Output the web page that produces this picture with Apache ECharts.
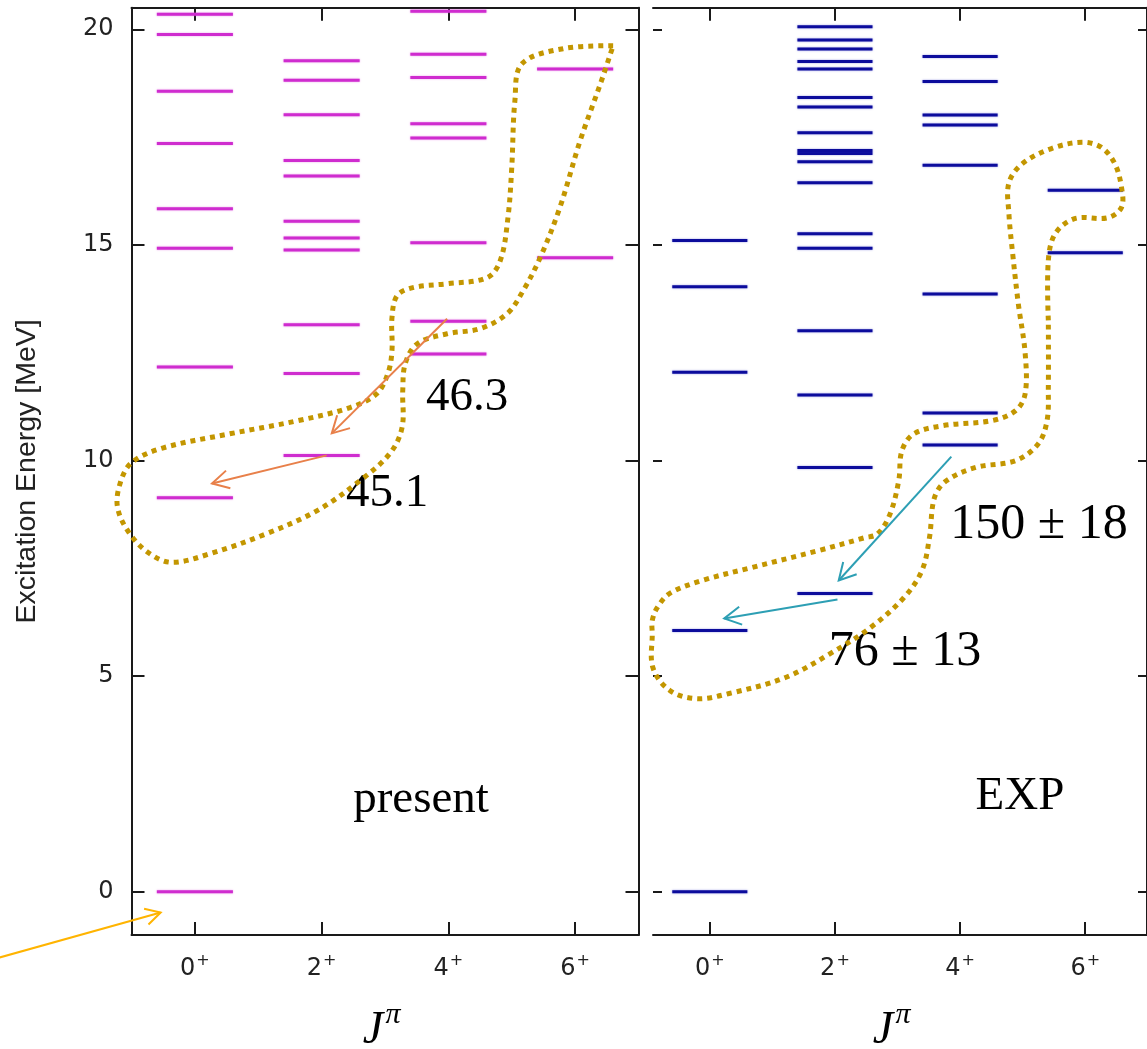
<!DOCTYPE html>
<html><head><meta charset="utf-8">
<script src="https://cdn.jsdelivr.net/npm/echarts@6/dist/echarts.min.js"></script>
<style>html,body{margin:0;padding:0;background:#fff}#c{width:1147px;height:1049px}</style>
</head><body><div id="c"></div>
<script>
// ---- data ----
const spinTicks = [0, 2, 4, 6];
const energyTicks = [0, 5, 10, 15, 20];

// calculated ("present") levels, MeV
const presentJ0 = [0, 9.14, 12.17, 14.92, 15.84, 17.35, 18.56, 19.88, 20.35];
const presentJ2 = [10.12, 12.02, 13.15, 14.88, 15.16, 15.55, 16.60, 16.96, 18.02, 18.82, 19.27];
const presentJ4 = [12.47, 13.23, 15.05, 17.48, 17.81, 18.88, 19.42, 20.42];
const presentJ6 = [14.70, 19.08];

// experimental levels, MeV
const expJ0 = [0, 6.06, 12.05, 14.03, 15.10];
const expJ2 = [6.92, 9.84, 11.52, 13.01, 14.92, 15.26, 16.44, 16.93, 17.12, 17.19, 17.60, 18.20, 18.42, 19.08, 19.25, 19.54, 19.75, 20.06];
const expJ4 = [10.36, 11.10, 13.86, 16.85, 17.78, 18.01, 18.79, 19.37];
const expJ6 = [14.82, 16.27];

// transition arrows [J from, E from, J to, E to]
const presentArrows = [[3.98, 13.29, 2.16, 10.63], [2.08, 10.12, 0.27, 9.47]];
const expArrows = [[3.86, 10.09, 2.06, 7.22], [2.04, 6.78, 0.23, 6.34]];
const groundArrow = [[-3.08, -1.52, -0.54, -0.48]];

// annotation labels
const presentLabels = ['46.3', '45.1', 'present'];
const expLabels = ['150 ± 18', '76 ± 13', 'EXP'];

// dotted band outlines [J, E]
const presentLoop = [
  [6.60,19.62],[5.81,19.55],[5.16,19.20],[5.05,18.35],[5.00,16.79],[4.94,15.63],[4.82,14.64],[4.61,14.24],
  [3.98,14.10],[3.44,14.01],[3.19,13.82],[3.11,13.31],[3.11,12.55],[3.05,12.04],[2.87,11.55],[2.45,11.23],
  [1.61,10.92],[0.55,10.62],[-0.51,10.29],[-1.0,9.95],[-1.18,9.47],[-1.22,8.91],[-1.03,8.31],[-0.71,7.84],
  [-0.36,7.64],[0.24,7.84],[1.14,8.31],[1.93,8.84],[2.61,9.54],[3.08,10.17],[3.27,10.77],[3.28,11.62],
  [3.32,12.25],[3.51,12.71],[3.98,12.94],[4.50,13.06],[4.93,13.41],[5.18,13.94],[5.45,14.71],[5.76,15.87],
  [6.08,17.42],[6.40,18.74],[6.60,19.62]
];
const expLoop = [
  [5.41,13.25],[5.41,14.64],[5.52,15.26],[5.83,15.61],[6.36,15.63],[6.58,15.87],[6.58,16.33],[6.47,16.89],
  [6.26,17.26],[5.95,17.38],[5.47,17.24],[5.00,16.89],[4.78,16.44],[4.78,15.73],[4.84,14.80],[4.93,13.64],
  [5.04,12.48],[5.04,11.55],[4.89,11.16],[4.52,10.93],[3.73,10.81],[3.26,10.62],[3.07,10.23],[3.02,9.54],
  [2.88,8.76],[2.68,8.30],[2.47,8.21],[1.73,7.91],[0.67,7.52],[-0.12,7.22],[-0.64,6.92],[-0.84,6.59],
  [-0.92,6.29],[-0.92,5.99],[-0.91,5.20],[-0.64,4.67],[-0.21,4.48],[0.31,4.60],[1.21,4.97],[1.93,5.53],
  [2.57,6.13],[3.10,6.82],[3.39,7.45],[3.51,8.21],[3.59,9.14],[3.78,9.53],[4.25,9.84],[4.89,10.00],
  [5.25,10.39],[5.39,10.93],[5.41,11.69],[5.41,13.25]
];

// ---- build ----
function levels(cols) {
  const out = [];
  cols.forEach((arr, i) => arr.forEach(e => out.push([spinTicks[i], e])));
  return out;
}
const HALF = 0.6;
function levelItem(color, glow) {
  return function (params, api) {
    const p1 = api.coord([api.value(0) - HALF, api.value(1)]);
    const p2 = api.coord([api.value(0) + HALF, api.value(1)]);
    return { type: 'line', shape: { x1: p1[0], y1: p1[1], x2: p2[0], y2: p2[1] },
      style: { stroke: color, lineWidth: 3, shadowBlur: 2, shadowColor: glow } };
  };
}
function arrowItem(color, width, head) {
  return function (params, api) {
    const a = api.coord([api.value(0), api.value(1)]);
    const b = api.coord([api.value(2), api.value(3)]);
    const ang = Math.atan2(a[1] - b[1], a[0] - b[0]);
    const sp = 0.5;
    const h1 = [b[0] + head * Math.cos(ang + sp), b[1] + head * Math.sin(ang + sp)];
    const h2 = [b[0] + head * Math.cos(ang - sp), b[1] + head * Math.sin(ang - sp)];
    return { type: 'group', children: [
      { type: 'line', shape: { x1: a[0], y1: a[1], x2: b[0], y2: b[1] }, style: { stroke: color, lineWidth: width } },
      { type: 'polyline', shape: { points: [h1, b, h2] }, style: { stroke: color, lineWidth: width, fill: null } }
    ] };
  };
}
function loopItem(loop) {
  return function (params, api) {
    if (params.dataIndex !== 0) return null;
    const pts = loop.map(p => api.coord(p));
    return { type: 'polyline', shape: { points: pts, smooth: 0.35 },
      style: { stroke: '#c39600', lineWidth: 5, lineDash: [5, 5], lineCap: 'butt', fill: null } };
  };
}

const AX = '#1a1a1a';
const lineSt = { color: AX, width: 2 };
const SANS = 'DejaVu Sans';
const labelRich = {
  a: { fontSize: 24, fontFamily: SANS, color: '#222', lineHeight: 26 },
  b: { fontSize: 16, fontFamily: SANS, color: '#222', lineHeight: 10, padding: [0, 0, 16, 1] }
};
function xAx(grid, pos, min, max, labels, tickLen) {
  return {
    gridIndex: grid, type: 'value', min: min, max: max, position: pos,
    axisLine: { show: true, onZero: false, lineStyle: lineSt },
    axisTick: { show: true, inside: true, length: tickLen, customValues: spinTicks, lineStyle: lineSt },
    axisLabel: labels ? { show: true, customValues: spinTicks, margin: 21,
      formatter: v => '{a|' + v + '}{b|+}', rich: labelRich } : { show: false },
    splitLine: { show: false }
  };
}
function yAx(grid, pos, showLine, labels, tickLen) {
  return {
    gridIndex: grid, type: 'value', min: -1, max: 20.5, position: pos,
    axisLine: { show: showLine, onZero: false, lineStyle: lineSt },
    axisTick: { show: true, inside: true, length: tickLen, customValues: energyTicks, lineStyle: lineSt },
    axisLabel: labels ? { show: true, customValues: energyTicks, margin: 18, fontSize: 24,
      fontFamily: SANS, color: '#222' } : { show: false },
    splitLine: { show: false }
  };
}

const chart = echarts.init(document.getElementById('c'), null, { renderer: 'canvas' });
const serif = 'Liberation Serif';
const yLeft = yAx(0, 'left', true, true, 13);
yLeft.name = 'Excitation Energy [MeV]';
yLeft.nameLocation = 'middle';
yLeft.nameGap = 90;
yLeft.nameRotate = 90;
yLeft.nameTextStyle = { fontSize: 28.5, fontFamily: 'Liberation Sans', color: '#222' };

function txt(x, y, t, size) {
  return { type: 'text', x: x, y: y, style: { text: t, font: size + 'px "' + serif + '"', fill: '#000', align: 'center', verticalAlign: 'middle' } };
}
function jpi(x, y) {
  return [
    { type: 'text', x: x - 10, y: y + 4, style: { text: 'J', font: 'italic 46px "' + serif + '"', fill: '#000', align: 'center', verticalAlign: 'middle' } },
    { type: 'text', x: x + 10, y: y - 12, style: { text: 'π', font: 'italic 30px "' + serif + '"', fill: '#000', align: 'center', verticalAlign: 'middle' } }
  ];
}

chart.setOption({
  animation: false,
  backgroundColor: '#fff',
  grid: [
    { left: 131.5, top: 7.7, width: 507, height: 927.3 },
    { left: 653, top: 7.7, width: 500, height: 927.3 }
  ],
  xAxis: [
    xAx(0, 'bottom', -1, 7, true, 13), xAx(0, 'top', -1, 7, false, 13),
    xAx(1, 'bottom', -0.908, 6.987, true, 13), xAx(1, 'top', -0.908, 6.987, false, 13)
  ],
  yAxis: [yLeft, yAx(0, 'right', true, false, 13), yAx(1, 'left', false, false, 9), yAx(1, 'right', true, false, 9)],
  series: [
    { type: 'custom', xAxisIndex: 0, yAxisIndex: 0, clip: false, data: levels([presentJ0, presentJ2, presentJ4, presentJ6]), renderItem: levelItem('#cf2ccf', 'rgba(220,80,220,0.6)') },
    { type: 'custom', xAxisIndex: 2, yAxisIndex: 2, clip: false, data: levels([expJ0, expJ2, expJ4, expJ6]), renderItem: levelItem('#0c0c9c', 'rgba(40,40,200,0.5)') },
    { type: 'custom', xAxisIndex: 0, yAxisIndex: 0, clip: false, data: presentLoop, renderItem: loopItem(presentLoop), z: 3 },
    { type: 'custom', xAxisIndex: 2, yAxisIndex: 2, clip: false, data: expLoop, renderItem: loopItem(expLoop), z: 3 },
    { type: 'custom', xAxisIndex: 0, yAxisIndex: 0, clip: false, data: presentArrows, renderItem: arrowItem('#e8804a', 2, 19), z: 4 },
    { type: 'custom', xAxisIndex: 2, yAxisIndex: 2, clip: false, data: expArrows, renderItem: arrowItem('#2d9fb4', 2, 19), z: 4 },
    { type: 'custom', xAxisIndex: 0, yAxisIndex: 0, clip: false, data: groundArrow, renderItem: arrowItem('#ffb400', 2, 17), z: 4 }
  ],
  graphic: [
    txt(467, 398, presentLabels[0], 47),
    txt(387, 494, presentLabels[1], 47),
    txt(421, 800, presentLabels[2], 47),
    txt(1039, 525, expLabels[0], 50),
    txt(905, 652, expLabels[1], 50),
    txt(1020, 797, expLabels[2], 47)
  ].concat(jpi(383, 1027), jpi(893, 1027))
});
</script></body></html>
